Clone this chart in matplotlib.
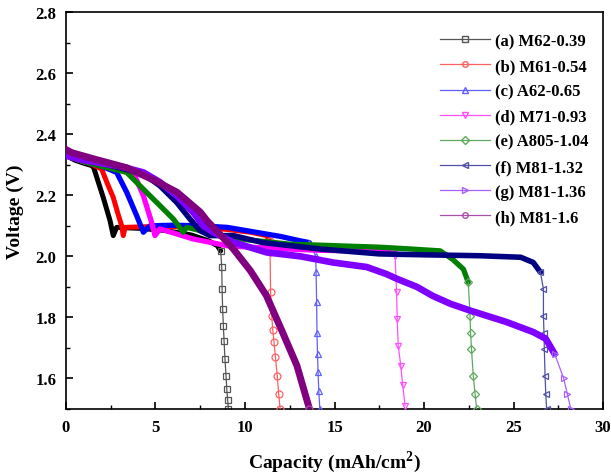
import matplotlib
matplotlib.use("Agg")
import matplotlib.pyplot as plt
from matplotlib.lines import Line2D
from matplotlib.ticker import MultipleLocator

plt.rcParams['font.family'] = ['Liberation Serif', 'DejaVu Serif']
plt.rcParams['font.weight'] = 'bold'
plt.rcParams['mathtext.fontset'] = 'custom'
plt.rcParams['mathtext.rm'] = 'Liberation Serif:bold'

# ---- data (capacity in mAh/cm2, voltage in V) ----
labels = ['(a) M62-0.39', '(b) M61-0.54', '(c) A62-0.65', '(d) M71-0.93',
          '(e) A805-1.04', '(f) M81-1.32', '(g) M81-1.36', '(h) M81-1.6']

cap_a = [0, 0.5, 1.0, 1.45, 1.55, 2.08, 2.46, 2.64, 2.83, 4.0, 5.5, 7.0, 8.0, 8.45,
         8.64, 8.70, 8.72, 8.75, 8.79, 8.83, 8.88, 8.94, 8.98, 9.03, 9.07]
volt_a = [2.33, 2.315, 2.305, 2.297, 2.29, 2.193, 2.117, 2.068, 2.095, 2.092, 2.085, 2.07, 2.05, 2.035,
          2.018, 1.964, 1.893, 1.828, 1.773, 1.724, 1.664, 1.609, 1.566, 1.53, 1.5]

cap_b = [0, 0.5, 1.0, 1.5, 1.99, 2.3, 2.64, 2.9, 3.11, 3.2, 3.3, 4.5, 6.0, 7.5, 9.0, 10.3,
         11.2, 11.38, 11.40, 11.43, 11.49, 11.55, 11.62, 11.7, 11.8, 11.88, 11.96]
volt_b = [2.33, 2.32, 2.31, 2.30, 2.286, 2.24, 2.193, 2.14, 2.10, 2.068, 2.095, 2.097, 2.097, 2.095, 2.088, 2.079,
          2.068, 2.05, 2.013, 1.882, 1.806, 1.76, 1.718, 1.67, 1.609, 1.55, 1.5]

cap_c = [0, 0.5, 1.0, 2.0, 2.83, 3.39, 3.95, 4.32, 4.69, 6.0, 7.5, 9.0, 10.5, 12.0, 13.07, 13.6,
         13.95, 13.97, 14.0, 14.02, 14.05, 14.08, 14.12, 14.18]
volt_c = [2.33, 2.32, 2.31, 2.295, 2.275, 2.21, 2.133, 2.079, 2.10, 2.102, 2.10, 2.095, 2.08, 2.065, 2.051, 2.045,
          2.0, 1.95, 1.85, 1.75, 1.68, 1.62, 1.56, 1.5]

cap_d = [0, 0.5, 1.0, 2.0, 3.0, 3.76, 4.32, 4.79, 4.97, 5.25, 7.1, 8.98, 10.3, 12.0, 14.0, 16.0, 18.0, 18.3,
         18.38, 18.47, 18.5, 18.56, 18.7, 18.81, 18.94]
volt_d = [2.33, 2.32, 2.31, 2.30, 2.29, 2.275, 2.199, 2.11, 2.068, 2.09, 2.057, 2.035, 2.03, 2.025, 2.02, 2.018, 2.015, 2.012,
          2.002, 1.882, 1.795, 1.707, 1.642, 1.577, 1.511]

cap_e = [0, 1.0, 2.0, 3.39, 4.32, 5.25, 6.0, 6.55, 6.74, 7.1, 8.5, 10.0, 12.5, 15.0, 17.5, 19.0, 20.9, 21.6,
         22.2, 22.47, 22.57, 22.6, 22.65, 22.75, 22.85, 22.94]
volt_e = [2.33, 2.31, 2.295, 2.275, 2.22, 2.166, 2.122, 2.079, 2.095, 2.09, 2.07, 2.055, 2.04, 2.035, 2.03, 2.025, 2.018, 1.99,
          1.958, 1.915, 1.806, 1.75, 1.697, 1.609, 1.55, 1.5]

cap_f = [0, 1.0, 2.0, 3.0, 4.32, 5.25, 6.18, 6.93, 7.49, 8.04, 9.35, 11.0, 14.2, 17.5, 20.0, 23.1, 25.4, 26.1,
         26.5, 26.67, 26.67, 26.7, 26.72, 26.76, 26.8, 26.85]
volt_f = [2.33, 2.315, 2.305, 2.29, 2.27, 2.231, 2.177, 2.122, 2.084, 2.068, 2.068, 2.045, 2.024, 2.008, 2.005, 2.002, 1.997, 1.98,
          1.948, 1.893, 1.806, 1.75, 1.697, 1.609, 1.55, 1.5]

cap_g = [0, 1.0, 2.0, 3.0, 4.32, 5.25, 6.18, 7.11, 7.67, 8.23, 9.35, 11.2, 13.1, 14.9, 16.8, 17.9, 18.5, 19.6,
         20.5, 21.5, 22.6, 24.6, 26.1, 26.8, 27.3, 27.8, 28.0, 28.2]
volt_g = [2.33, 2.315, 2.305, 2.295, 2.275, 2.243, 2.199, 2.144, 2.10, 2.079, 2.046, 2.013, 2.0, 1.98, 1.965, 1.942, 1.926, 1.90,
          1.87, 1.844, 1.822, 1.785, 1.752, 1.73, 1.68, 1.60, 1.55, 1.5]

cap_h = [0, 0.3, 1.5, 3.4, 4.9, 6.2, 7.1, 7.5, 7.9, 8.4, 9.35, 10.3, 11.2, 12.1, 12.9, 13.6]
volt_h = [2.35, 2.34, 2.32, 2.29, 2.25, 2.21, 2.165, 2.145, 2.115, 2.085, 2.024, 1.953, 1.871, 1.751, 1.642, 1.5]

caps = [cap_a, cap_b, cap_c, cap_d, cap_e, cap_f, cap_g, cap_h]
volts = [volt_a, volt_b, volt_c, volt_d, volt_e, volt_f, volt_g, volt_h]

# ---- styles ----
band_colors = ['#000000', '#FF0000', '#0000FF', '#FF00FF', '#008000', '#000080', '#8000FF', '#800080']
line_colors = ['#555555', '#FF6060', '#6060FF', '#FF50FF', '#60A860', '#5050A8', '#A860FF', '#A850A8']
markers = ['s', 'o', '^', 'v', 'D', '<', '>', 'o']
msizes = [5, 5, 5, 5, 4.5, 5, 5, 5]
band_width = [3.6, 3.6, 3.8, 3.8, 3.8, 4.0, 4.8, 5.0]
# dense (fused-marker) part of each curve ends at this point index
band_end = [15, 18, 16, 18, 20, 19, 25, 16]

fig = plt.figure(figsize=(6.11, 4.77), dpi=100)
ax = fig.add_axes([0.108, 0.1405, 0.879, 0.832])

for i in range(8):
    x, y = caps[i], volts[i]
    n = band_end[i]
    ax.plot(x[:n], y[:n], '-', color=band_colors[i], lw=band_width[i],
            solid_capstyle='round', zorder=2 + i)
    ax.plot(x[n - 1:], y[n - 1:], '-', color=line_colors[i], lw=0.9, marker=markers[i],
            ms=msizes[i], mfc='none', mec=line_colors[i], mew=0.9, zorder=2 + i)

ax.set_xlim(0, 30)
ax.set_ylim(1.5, 2.8)
ax.xaxis.set_major_locator(MultipleLocator(5))
ax.xaxis.set_minor_locator(MultipleLocator(2.5))
ax.yaxis.set_major_locator(MultipleLocator(0.2))
ax.yaxis.set_minor_locator(MultipleLocator(0.1))
ax.tick_params(which='both', direction='in', top=False, right=False, labelsize=12, pad=7)
ax.tick_params(which='major', length=5, width=1.2)
ax.tick_params(which='minor', length=3, width=1.0)
for s in ax.spines.values():
    s.set_linewidth(1.2)

ax.set_xlabel('Capacity (mAh/cm$^2$)', fontsize=14, fontweight='bold', labelpad=10)
ax.set_ylabel('Voltage (V)', fontsize=14, fontweight='bold', labelpad=8)

handles = [Line2D([0], [0], color=line_colors[i], lw=0.9, marker=markers[i], ms=4,
                  mfc='none', mec=line_colors[i]) for i in range(8)]
ax.legend(handles, labels, loc='upper right', bbox_to_anchor=(1.0, 0.985), frameon=False,
          handlelength=3.0, handletextpad=0.3, labelspacing=0.55,
          prop={'weight': 'bold', 'size': 12})

fig.savefig('out.png', dpi=100)
